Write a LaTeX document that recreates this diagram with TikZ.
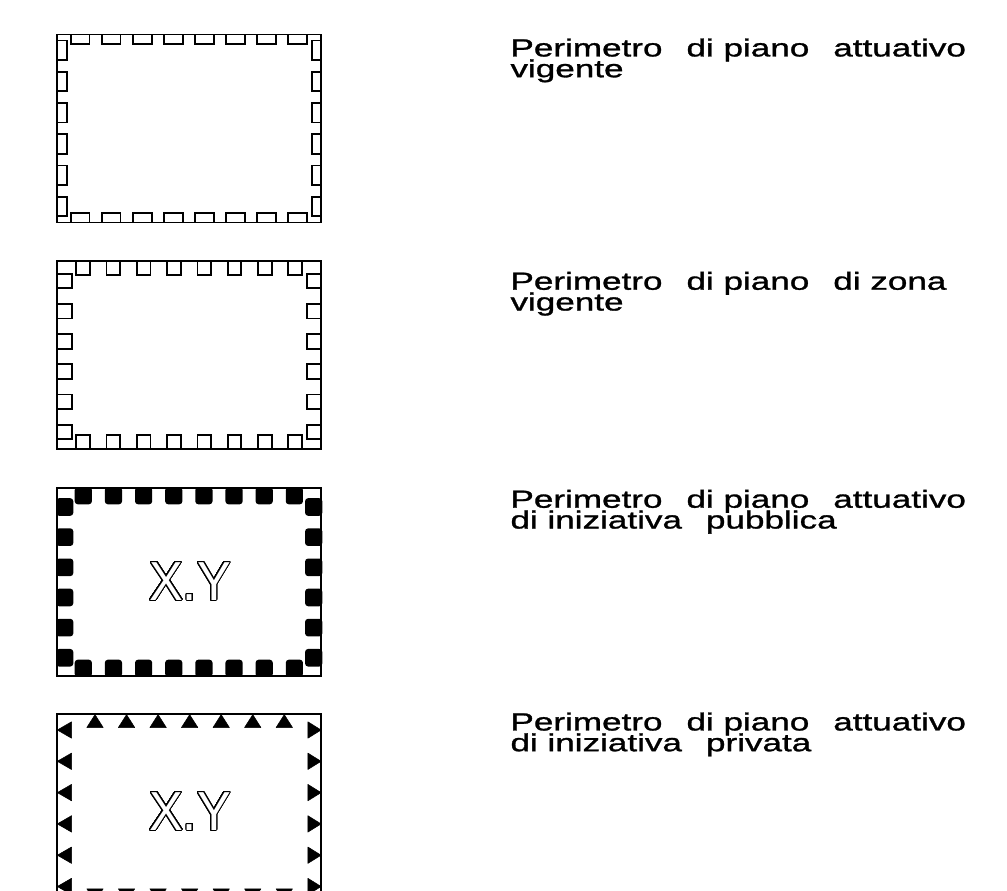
\documentclass[tikz,border=0pt]{standalone}
\usepackage{fontspec}
\usepackage{contour}
\newfontfamily\labfont[FakeStretch=1.42,FakeBold=1.2]{Liberation Sans}
\newfontfamily\xyfont[FakeStretch=0.92]{Liberation Sans}
\contourlength{1pt}
\contournumber{48}
\newcommand{\dsp}{\hspace{24pt}}
\setlength{\lineskiplimit}{-100pt}
\begin{document}
\begin{tikzpicture}[x=1pt,y=-1pt,
  ln/.style={draw=black,line width=1.8pt},
  lab/.style={anchor=base west,inner sep=0pt,align=left,
    font=\labfont\fontsize{24.7}{20.8}\selectfont},
  xy/.style={inner sep=0pt,text=white,font=\xyfont\fontsize{55}{55}\selectfont},
  tri/.style={fill=black,draw=black,line width=0.5pt,line join=round},
  fsq/.style={fill=black,rounded corners=3pt}]
\useasboundingbox (0,0) rectangle (1007,891);
\clip (0,0) rectangle (1007,891);

% ---- box 1
\draw[ln] (57.3,34.6) rectangle (321.1,222.4);
\foreach \i in {0,...,7}{
  \draw[ln] ({70.6+31.1*\i},34.6) rectangle ({89.4+31.1*\i},43.7);
  \draw[ln] ({70.6+31.1*\i},213.3) rectangle ({89.4+31.1*\i},222.4);}
\foreach \j in {0,...,5}{
  \draw[ln] (57.3,{40.6+31.2*\j}) rectangle (66.7,{60.1+31.2*\j});
  \draw[ln] (311.7,{40.6+31.2*\j}) rectangle (321.1,{60.1+31.2*\j});}

% ---- box 2
\draw[ln] (57.3,261.3) rectangle (321.1,448.7);
\foreach \i in {0,...,7}{
  \draw[ln] ({83+30.3*\i-6.8},261.3) rectangle ({83+30.3*\i+6.8},275.3);
  \draw[ln] ({83+30.3*\i-6.8},434.7) rectangle ({83+30.3*\i+6.8},448.7);}
\foreach \j in {0,...,5}{
  \draw[ln] (57.3,{281+30.2*\j-7.3}) rectangle (71.7,{281+30.2*\j+7.3});
  \draw[ln] (306.7,{281+30.2*\j-7.3}) rectangle (321.1,{281+30.2*\j+7.3});}

% ---- box 3
\draw[ln] (57.3,488) rectangle (321.1,676);
\foreach \i in {0,...,7}{
  \fill[fsq] ({83.3+30.15*\i-8.6},487.1) rectangle ({83.3+30.15*\i+8.6},504.3);
  \fill[fsq] ({83.3+30.15*\i-8.6},659.7) rectangle ({83.3+30.15*\i+8.6},676.9);}
\foreach \j in {0,...,5}{
  \fill[fsq] (56.1,{507+30.15*\j-8.8}) rectangle (73.3,{507+30.15*\j+8.8});
  \fill[fsq] (305.1,{507+30.15*\j-8.8}) rectangle (322.3,{507+30.15*\j+8.8});}
\node[xy] (xy1) at (190,581.7) {\contour{black}{X.Y}};

% ---- box 4
\draw[ln] (57.3,714) rectangle (321.1,902);
\foreach \i in {0,...,6}{
  \filldraw[tri] ({95+31.55*\i},714.6) -- ({95+31.55*\i+8.2},727.5) -- ({95+31.55*\i-8.2},727.5) -- cycle;
  \filldraw[tri] ({95+31.55*\i},901.4) -- ({95+31.55*\i+8.2},888.8) -- ({95+31.55*\i-8.2},888.8) -- cycle;}
\foreach \j in {0,...,5}{
  \filldraw[tri] (57.3,{730+31.3*\j}) -- (71.5,{730+31.3*\j-8.2}) -- (71.5,{730+31.3*\j+8.2}) -- cycle;
  \filldraw[tri] (321.1,{730+31.3*\j}) -- (307.9,{730+31.3*\j-8.2}) -- (307.9,{730+31.3*\j+8.2}) -- cycle;}
\node[xy] (xy2) at (190,811.7) {\contour{black}{X.Y}};

% ---- labels (base anchor = baseline of the last line)
\node[lab] (l1) at (510.3,77.2) {Perimetro\dsp di piano\dsp attuativo\\vigente};
\node[lab] (l2) at (510.3,310.5) {Perimetro\dsp di piano\dsp di zona\\vigente};
\node[lab] (l3) at (510.3,528.5) {Perimetro\dsp di piano\dsp attuativo\\di iniziativa\dsp pubblica};
\node[lab] (l4) at (510.3,751.2) {Perimetro\dsp di piano\dsp attuativo\\di iniziativa\dsp privata};
\end{tikzpicture}
\end{document}
